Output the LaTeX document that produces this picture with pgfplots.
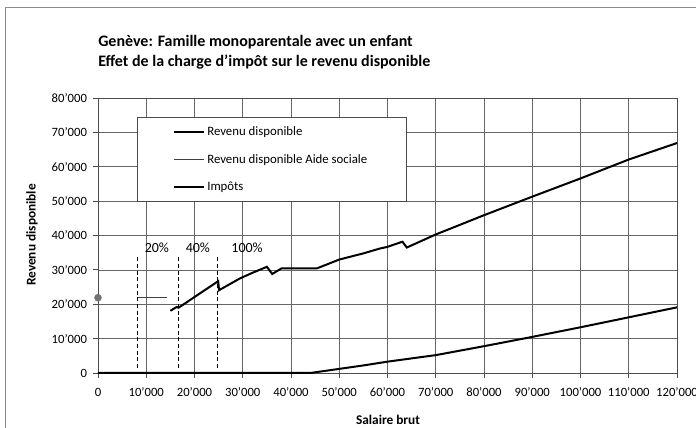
\documentclass[border=0pt]{standalone}
\usepackage{fontspec}
\setmainfont{Carlito}
\usepackage{pgfplots}
\pgfplotsset{compat=1.18}
\begin{document}
\begin{tikzpicture}
\useasboundingbox (-73.5pt,-41.25pt) rectangle (448.5pt,279.75pt);
\fill[white] (-73.5pt,-41.25pt) rectangle (448.5pt,279.75pt);
\draw[black!45, line width=0.6pt] (-69.75pt,-41.25pt) -- (-69.75pt,274.1pt) -- (448.5pt,274.1pt);
\begin{axis}[
  at={(0,0)}, anchor=south west,
  scale only axis, width=434.25pt, height=206.25pt,
  xmin=0, xmax=120000, ymin=0, ymax=80000,
  scaled ticks=false,
  xtick={0,10000,...,120000}, ytick={0,10000,...,80000},
  xticklabels={0,10'000,20'000,30'000,40'000,50'000,60'000,70'000,80'000,90'000,100'000,110'000,120'000},
  yticklabels={0,10'000,20'000,30'000,40'000,50'000,60'000,70'000,80'000},
  grid=major, major grid style={black!60, line width=0.5pt},
  axis line style={black!70, line width=0.6pt},
  tick align=outside, xtick pos=lower, ytick pos=left,
  major tick length=3.75pt, tick style={black!70, line width=0.6pt},
  ticklabel style={font=\fontsize{9.5}{11}\selectfont},
  xticklabel style={yshift=-4pt},
  yticklabel style={xshift=-1pt},
  clip=false,
  legend style={at={(axis description cs:0.0674,0.9309)}, anchor=north west,
    draw=black!70, fill=white, inner xsep=27pt, inner ysep=5pt,
    /tikz/row sep=8.5pt, font=\fontsize{9.6}{11}\selectfont},
  legend cell align=left,
  legend image code/.code={\draw[#1] (0pt,0pt) -- (22pt,0pt);},
]
\addplot[black, line width=1.5pt] coordinates {
 (15000,18100) (16300,19200) (16700,19000) (24900,26700) (25100,24100)
 (29400,27500) (32100,29200) (35000,30900) (36100,28800) (38000,30400)
 (45300,30400) (50000,33000) (55000,34800) (58400,36200) (60000,36700)
 (63100,38200) (64000,36500) (70000,40300) (80000,45900) (90000,51300)
 (100000,56600) (110000,62100) (120000,66900)};
\addlegendentry{Revenu disponible}
\addplot[black!75, line width=0.6pt] coordinates {(8200,21900) (14200,21900)};
\addlegendentry{Revenu disponible Aide sociale}
\addplot[black, line width=1.5pt] coordinates {
 (0,0) (44000,0) (50000,1200) (55000,2200) (60000,3300) (70000,5200)
 (80000,7800) (90000,10500) (100000,13300) (110000,16200) (120000,19100)};
\addlegendentry{Impôts}
\addplot[only marks, mark=*, mark size=2.6pt, black!55, forget plot] coordinates {(0,21900)};
\addplot[black, line width=0.8pt, dash pattern=on 3pt off 2pt, forget plot] coordinates {(8200,1500) (8200,33700)};
\addplot[black, line width=0.8pt, dash pattern=on 3pt off 2pt, forget plot] coordinates {(16600,1500) (16600,33700)};
\addplot[black, line width=0.8pt, dash pattern=on 3pt off 2pt, forget plot] coordinates {(24800,1500) (24800,33700)};
\node[font=\fontsize{10.5}{12}\selectfont] at (axis cs:12200,36400) {20\%};
\node[font=\fontsize{10.5}{12}\selectfont] at (axis cs:20700,36400) {40\%};
\node[font=\fontsize{10.5}{12}\selectfont] at (axis cs:30900,36400) {100\%};
\end{axis}
\node[anchor=base west, font=\bfseries\fontsize{12}{14}\selectfont, inner sep=0pt] at (0pt,244.5pt) {Genève: Famille monoparentale avec un enfant};
\node[anchor=base west, font=\bfseries\fontsize{12}{14}\selectfont, inner sep=0pt] at (0pt,229.5pt) {Effet de la charge d'impôt sur le revenu disponible};
\node[rotate=90, font=\bfseries\fontsize{10}{12}\selectfont] at (-49.5pt,103.5pt) {Revenu disponible};
\node[font=\bfseries\fontsize{10}{12}\selectfont] at (217.5pt,-35.25pt) {Salaire brut};
\end{tikzpicture}
\end{document}
